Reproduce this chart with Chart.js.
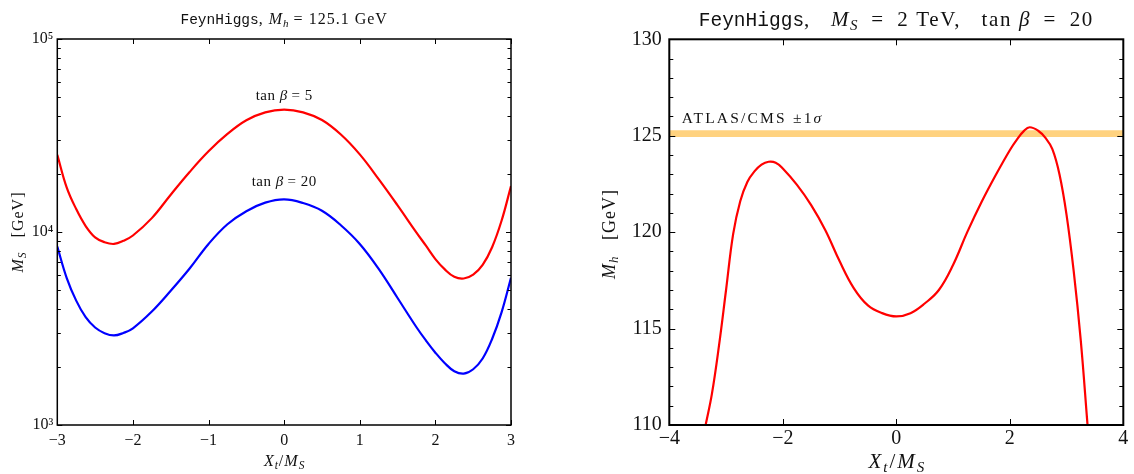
<!DOCTYPE html>
<html>
<head>
<meta charset="utf-8">
<script src="https://cdn.jsdelivr.net/npm/chart.js@4.4.1/dist/chart.umd.min.js"></script>
<style>
  html, body { margin: 0; padding: 0; background: #fff; }
  canvas { position: absolute; top: 0; }
</style>
</head>
<body>
<canvas id="msChart" width="567" height="474" style="left:0"></canvas>
<canvas id="mhChart" width="567" height="474" style="left:567px"></canvas>
<script>
// ---- left panel: M_S needed for M_h = 125.1 GeV vs X_t/M_S ----
const xtLeft   = [-3, -2.875, -2.75, -2.625, -2.5, -2.375, -2.25, -2.125, -2, -1.75, -1.5, -1.25, -1, -0.75, -0.5, -0.25,
                  0, 0.25, 0.5, 0.75, 1, 1.25, 1.5, 1.75, 1.875, 2, 2.125, 2.25, 2.375, 2.5, 2.625, 2.75, 2.875, 3];
const msTanb5  = [25120, 16980, 13150, 10740, 9380, 8850, 8670, 9000, 9590, 11800, 15600, 20460, 26180, 32210, 37930, 41690,
                  43050, 41690, 38020, 31990, 25240, 18790, 13740, 9930, 8490, 7240, 6400, 5860, 5740, 6010, 6750, 8340, 11430, 17300];
const msTanb20 = [8400, 5770, 4410, 3620, 3200, 2990, 2910, 3000, 3170, 3870, 4960, 6470, 8670, 10970, 12820, 14190,
                  14760, 14130, 12880, 10840, 8670, 6440, 4550, 3210, 2740, 2370, 2090, 1900, 1845, 1945, 2210, 2790, 3830, 5790];
const leftXTicks = [-3, -2, -1, 0, 1, 2, 3];
const leftYTicks = [1e3, 1e4, 1e5];

// ---- right panel: M_h vs X_t/M_S at M_S = 2 TeV, tan(beta) = 20 ----
const xtRight = [-3.36, -3.25, -3.125, -3, -2.875, -2.75, -2.625, -2.5, -2.375, -2.25, -2.125, -2, -1.75, -1.5, -1.25,
                 -1, -0.75, -0.5, -0.25, 0, 0.25, 0.5, 0.75, 1, 1.25, 1.5, 1.75, 2, 2.125, 2.25, 2.35, 2.5, 2.625,
                 2.75, 2.875, 3, 3.125, 3.25, 3.37];
const mhRight = [110, 111.6, 114.1, 117.0, 119.9, 121.6, 122.6, 123.15, 123.5, 123.65, 123.6, 123.3, 122.45, 121.4, 120.1,
                 118.5, 117.1, 116.2, 115.8, 115.63, 115.8, 116.3, 117.0, 118.3, 120.0, 121.55, 122.95, 124.25, 124.8, 125.25, 125.44, 125.26, 124.9,
                 124.3, 123.0, 120.9, 118.0, 114.4, 110];
// measured M_h band (ATLAS/CMS +-1 sigma)
const bandX  = [-4, 4];
const bandLo = [124.94, 124.94];
const bandHi = [125.29, 125.29];
const rightXTicks = [-4, -2, 0, 2, 4];
const rightYTicks = [110, 115, 120, 125, 130];

const SERIF = '"Liberation Serif", "DejaVu Serif", serif';
const MONO = '"Liberation Mono", "DejaVu Sans Mono", monospace';

const pts = (xs, ys) => xs.map((x, i) => ({ x, y: ys[i] }));
// text runs: roman, italic, typewriter (size, baseline shift, letter spacing)
const rm = (t, s, dy, ls) => ({ t, font: `${s}px ${SERIF}`, dy: dy || 0, ls: ls || 0 });
const it = (t, s, dy, ls) => ({ t, font: `italic ${s}px ${SERIF}`, dy: dy || 0, ls: ls || 0 });
const tt = (t, s, ls) => ({ t, font: `${s}px ${MONO}`, dy: 0, ls: ls || 0 });
const minus = v => String(v).replace('-', '\u2212');

function drawRuns(ctx, runs, x, y, align) {
  let w = 0;
  const widths = runs.map(r => {
    ctx.font = r.font;
    ctx.letterSpacing = r.ls + 'px';
    const m = ctx.measureText(r.t).width;
    w += m;
    return m;
  });
  let cx = align === 'left' ? x : x - w / 2;
  ctx.textAlign = 'left';
  ctx.textBaseline = 'alphabetic';
  runs.forEach((r, i) => {
    ctx.font = r.font;
    ctx.letterSpacing = r.ls + 'px';
    ctx.fillText(r.t, cx, y + r.dy);
    cx += widths[i];
  });
  ctx.letterSpacing = '0px';
}

// frame, inward ticks on all sides and the rich text labels
function makeDecor(cfg) {
  return {
    id: 'decor',
    afterDraw(chart) {
      const { ctx, chartArea: a, scales: { x, y } } = chart;
      ctx.save();
      ctx.strokeStyle = '#000';
      ctx.lineWidth = 1;
      const tickX = (vals, len) => vals.forEach(v => {
        const px = Math.round(x.getPixelForValue(v)) + 0.5;
        ctx.beginPath();
        ctx.moveTo(px, a.bottom); ctx.lineTo(px, a.bottom - len);
        ctx.moveTo(px, a.top); ctx.lineTo(px, a.top + len);
        ctx.stroke();
      });
      const tickY = (vals, len) => vals.forEach(v => {
        const py = Math.round(y.getPixelForValue(v)) + 0.5;
        ctx.beginPath();
        ctx.moveTo(a.left, py); ctx.lineTo(a.left + len, py);
        ctx.moveTo(a.right, py); ctx.lineTo(a.right - len, py);
        ctx.stroke();
      });
      tickX(x.ticks.map(t => t.value), cfg.major);
      tickY(y.ticks.map(t => t.value), cfg.major);
      tickY(cfg.minorY, cfg.minor);
      ctx.lineWidth = cfg.frame;
      ctx.strokeRect(a.left, a.top, a.right - a.left, a.bottom - a.top);

      ctx.fillStyle = '#111';
      const mid = (a.left + a.right) / 2;
      cfg.texts.forEach(tx => {
        if (tx.rotate) {
          ctx.save();
          ctx.translate(tx.x, tx.y);
          ctx.rotate(-Math.PI / 2);
          drawRuns(ctx, tx.runs, 0, 0, 'center');
          ctx.restore();
        } else if (tx.data) {
          drawRuns(ctx, tx.runs, x.getPixelForValue(tx.x), y.getPixelForValue(tx.y), tx.align);
        } else {
          drawRuns(ctx, tx.runs, tx.x === 'mid' ? mid : tx.x, tx.y, tx.align);
        }
      });
      ctx.restore();
    }
  };
}

const logMinors = [];
[1e3, 1e4].forEach(d => { for (let k = 2; k <= 9; k++) logMinors.push(k * d); });
const linMinors = [];
for (let v = 111; v < 130; v++) if (v % 5) linMinors.push(v);

const tickFont = size => ({ family: SERIF, size });
const curve = (data, color) => ({ data, borderColor: color, borderWidth: 2.2, pointRadius: 0, tension: 0.4 });
const EQ = ' \u2009=\u2009 ';

// left panel
new Chart(document.getElementById('msChart'), {
  type: 'line',
  data: {
    datasets: [
      curve(pts(xtLeft, msTanb5), '#ff0000'),
      curve(pts(xtLeft, msTanb20), '#0000ff')
    ]
  },
  options: {
    responsive: false, animation: false, events: [],
    layout: { padding: { left: 0, right: 56, top: 39, bottom: 0 } },
    plugins: { legend: { display: false }, tooltip: { enabled: false } },
    scales: {
      x: {
        type: 'linear', min: -3, max: 3,
        afterBuildTicks: s => { s.ticks = leftXTicks.map(v => ({ value: v })); },
        afterFit: s => { s.height = 49; },
        grid: { display: false, drawTicks: false }, border: { display: false },
        ticks: { padding: 6, color: '#111', font: tickFont(16), maxRotation: 0, callback: v => minus(v) }
      },
      y: {
        type: 'logarithmic', min: 1e3, max: 1e5,
        afterBuildTicks: s => { s.ticks = leftYTicks.map(v => ({ value: v })); },
        afterFit: s => { s.width = 57.3; },
        grid: { display: false, drawTicks: false }, border: { display: false },
        ticks: { padding: 4, color: '#111', font: tickFont(16),
                 callback: v => '10' + { 3: '\u00b3', 4: '\u2074', 5: '\u2075' }[Math.round(Math.log10(v))] }
      }
    }
  },
  plugins: [makeDecor({
    major: 5, minor: 3.5, frame: 1.5, minorY: logMinors,
    texts: [
      { x: 'mid', y: 24, runs: [tt('FeynHiggs', 14.5), rm(', ', 16, 0, 1), it('M', 16, 0, 1), it('h', 11, 3),
                                rm(' = 125.1 GeV', 16, 0, 1)] },
      { x: 'mid', y: 466, runs: [it('X', 16, 0, 1), it('t', 11.5, 3, 1), rm('/', 16, 0, 1), it('M', 16, 0, 1), it('S', 11.5, 3)] },
      { rotate: true, x: 23, y: 232, runs: [it('M', 16, 0, 1), it('S', 11.5, 3), rm('   [GeV]', 16, 0, 1)] },
      { data: true, x: 0, y: 48400, runs: [rm('tan ', 15, 0, 0.5), it('\u03b2', 15), rm(' = 5', 15, 0, 0.5)] },
      { data: true, x: 0, y: 17300, runs: [rm('tan ', 15, 0, 0.5), it('\u03b2', 15), rm(' = 20', 15, 0, 0.5)] }
    ]
  })]
});

// right panel
new Chart(document.getElementById('mhChart'), {
  type: 'line',
  data: {
    datasets: [
      curve(pts(xtRight, mhRight), '#ff0000'),
      { data: pts(bandX, bandLo), borderWidth: 0, pointRadius: 0, fill: false },
      { data: pts(bandX, bandHi), borderWidth: 0, pointRadius: 0, fill: '-1', backgroundColor: '#ffd27f' }
    ]
  },
  options: {
    responsive: false, animation: false, events: [],
    layout: { padding: { left: 0, right: 10.7, top: 39.3, bottom: 0 } },
    plugins: { legend: { display: false }, tooltip: { enabled: false } },
    scales: {
      x: {
        type: 'linear', min: -4, max: 4,
        afterBuildTicks: s => { s.ticks = rightXTicks.map(v => ({ value: v })); },
        afterFit: s => { s.height = 49; },
        grid: { display: false, drawTicks: false }, border: { display: false },
        ticks: { padding: 2, color: '#111', font: tickFont(20), maxRotation: 0, callback: v => minus(v) }
      },
      y: {
        type: 'linear', min: 110, max: 130,
        afterBuildTicks: s => { s.ticks = rightYTicks.map(v => ({ value: v })); },
        afterFit: s => { s.width = 102.3; },
        grid: { display: false, drawTicks: false }, border: { display: false },
        ticks: { padding: 7.5, color: '#111', font: tickFont(20) }
      }
    }
  },
  plugins: [makeDecor({
    major: 6, minor: 4, frame: 2, minorY: linMinors,
    texts: [
      { x: 'mid', y: 26, runs: [tt('FeynHiggs', 19.5), rm(',   ', 21, 0, 1.5), it('M', 21, 0, 1.5), it('S', 15, 4, 1),
                                rm(EQ + '2 TeV,   tan ', 21, 0, 1.6), it('\u03b2', 21, 0, 1.5), rm(EQ + '20', 21, 0, 1.6)] },
      { x: 'mid', y: 468, runs: [it('X', 21, 0, 2), it('t', 15, 4, 2), rm('/', 21, 0, 2), it('M', 21, 0, 2), it('S', 15, 4)] },
      { rotate: true, x: 48, y: 234, runs: [it('M', 18, 0, 1), it('h', 13, 3), rm('   [GeV]', 18, 0, 1)] },
      { data: true, x: -3.78, y: 125.65, align: 'left', runs: [rm('ATLAS/CMS \u00b11', 15.5, 0, 2.2), it('\u03c3', 15.5)] }
    ]
  })]
});
</script>
</body>
</html>
